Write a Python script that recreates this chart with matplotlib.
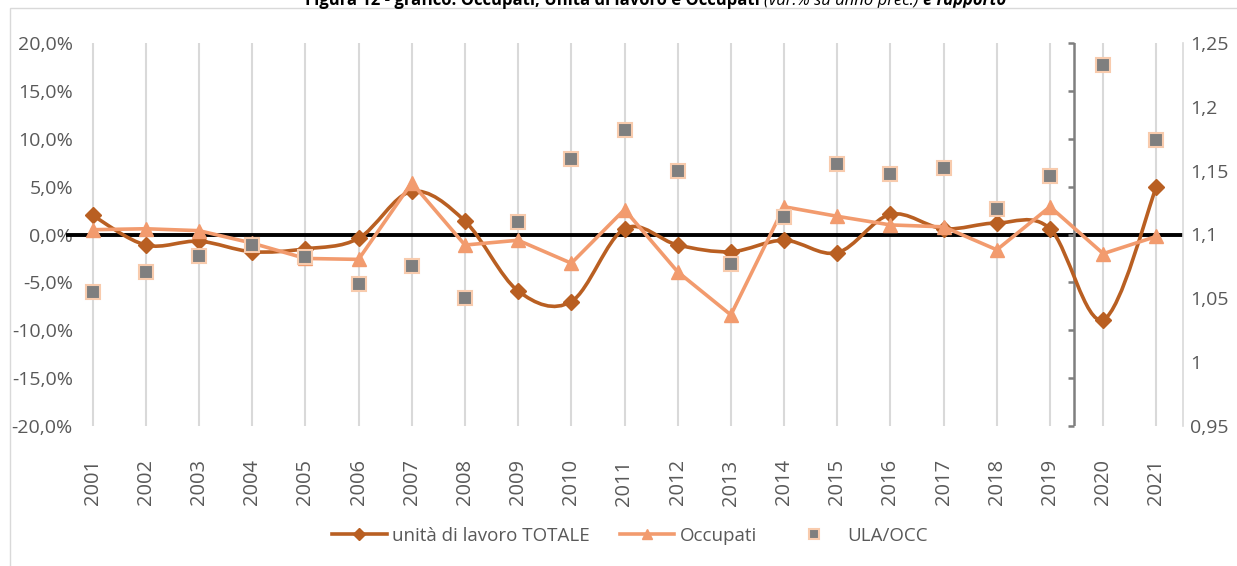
import numpy as np
import matplotlib.pyplot as plt
from matplotlib.path import Path
from matplotlib.patches import PathPatch, Rectangle
from matplotlib.lines import Line2D
from matplotlib.markers import TICKLEFT

plt.rcParams['font.family'] = ['Open Sans', 'DejaVu Sans']

# data (var.% su anno prec. / rapporto)
years = list(range(2001, 2022))
ula_tot = [2.0, -1.1, -0.7, -1.8, -1.5, -0.4, 4.5, 1.4, -5.9, -7.0, 0.6,
           -1.1, -1.8, -0.6, -1.9, 2.1, 0.6, 1.2, 0.6, -8.9, 5.0]
occupati = [0.5, 0.6, 0.4, -0.9, -2.5, -2.6, 5.4, -1.1, -0.6, -3.0, 2.6,
            -3.9, -8.4, 2.9, 1.9, 1.0, 0.8, -1.6, 2.9, -2.0, -0.2]
ula_occ = [1.055, 1.071, 1.083, 1.092, 1.082, 1.061, 1.075, 1.050, 1.110, 1.159, 1.182,
           1.150, 1.077, 1.114, 1.155, 1.147, 1.152, 1.120, 1.146, 1.233, 1.174]
labels = ["unità di lavoro TOTALE", "Occupati", "ULA/OCC"]
left_ticks = [-20, -15, -10, -5, 0, 5, 10, 15, 20]
right_ticks = [0.95, 1.0, 1.05, 1.1, 1.15, 1.2, 1.25]
right_labels = ["0,95", "1", "1,05", "1,1", "1,15", "1,2", "1,25"]

brown = '#B95F22'
orange = '#F29B6E'
grey_txt = '#595959'


def smooth_path(xs, ys):
    # excel-like smoothed line: cubic bezier through the points
    p = np.column_stack([xs, ys]).astype(float)
    n = len(p)
    verts = [p[0]]
    codes = [Path.MOVETO]
    for i in range(n - 1):
        prev = p[i - 1] if i > 0 else p[i]
        nxt = p[i + 2] if i + 2 < n else p[i + 1]
        c1 = p[i] + (p[i + 1] - prev) / 6
        c2 = p[i + 1] - (nxt - p[i]) / 6
        verts += [c1, c2, p[i + 1]]
        codes += [Path.CURVE4] * 3
    return Path(verts, codes)


W, H = 1237, 566
fig = plt.figure(figsize=(W / 100, H / 100), dpi=100)
ax = fig.add_axes([66 / W, 1 - 426 / H, (1183 - 66) / W, (426 - 43) / H])

ax.set_xlim(2000.5, 2021.5)
ax.set_ylim(-20, 20)
ax.set_xticks(years)
ax.set_xticklabels([str(y) for y in years], rotation=90, fontsize=14.5, color=grey_txt)
ax.set_yticks(left_ticks)
ax.set_yticklabels([f"{t},0%" for t in left_ticks], fontsize=14, color=grey_txt)
ax.tick_params(axis='x', length=0, pad=24)
ax.tick_params(axis='y', length=0, pad=-5)
ax.grid(axis='x', color='#d9d9d9', lw=1.5)
ax.set_axisbelow(True)
for s in ax.spines.values():
    s.set_visible(False)

ax.axhline(0, color='black', lw=2.8, zorder=1.5)

# separator line with ticks between 2019 and 2020
ax.axvline(2019.45, color='#7f7f7f', lw=1.8, zorder=1.6)
ax.plot([2019.45] * len(left_ticks), left_ticks, ls='none', marker=TICKLEFT,
        ms=4.5, mew=1.8, color='#7f7f7f', zorder=1.6, clip_on=False)

ax.add_patch(PathPatch(smooth_path(years, ula_tot), fc='none', ec=brown, lw=2.6, zorder=3))
ax.plot(years, ula_tot, ls='none', marker='D', ms=8.5, color=brown, zorder=4)
ax.plot(years, occupati, color=orange, lw=2.6, marker='^', ms=10, zorder=5)

ax2 = ax.twinx()
ax2.set_ylim(0.95, 1.25)
ax2.set_yticks(right_ticks)
ax2.set_yticklabels(right_labels, fontsize=14, color=grey_txt)
ax2.tick_params(axis='y', length=0, pad=5)
for k, s in ax2.spines.items():
    s.set_visible(k == 'right')
ax2.spines['right'].set_color('#d9d9d9')
ax2.spines['right'].set_linewidth(1.2)
ax2.plot(years, ula_occ, ls='none', marker='s', ms=10, mfc='#7f7f7f',
         mec='#F8CBAD', mew=1.5, zorder=6)

handles = [
    Line2D([], [], color=brown, lw=2.6, marker='D', ms=6),
    Line2D([], [], color=orange, lw=2.6, marker='^', ms=7),
    Line2D([], [], ls='none', marker='s', ms=7, mfc='#7f7f7f', mec='#F8CBAD', mew=1.5),
]
fig.legend(handles, labels, loc='center', bbox_to_anchor=(630 / W, 1 - 536 / H), ncol=3,
           frameon=False, fontsize=13.5, handlelength=2.9, handletextpad=0.3,
           columnspacing=1.6, labelcolor=grey_txt)

# border of the chart area
fig.patches.append(Rectangle((10 / W, -0.1), 2, 1 - 8 / H + 0.1, transform=fig.transFigure,
                             fill=False, ec='#d9d9d9', lw=1))

# title (cut at the top in the original)
t1 = fig.text(305 / W, 1 - 9 / H, "Figura 12 - grafico: Occupati, Unità di lavoro e Occupati ",
              fontsize=12, weight='bold', va='bottom', ha='left')
t2 = ax.annotate("(var.% su anno prec.) ", xy=(1, 0), xycoords=t1, va='bottom', ha='left',
                 fontsize=12, style='italic', annotation_clip=False)
ax.annotate("e rapporto", xy=(1, 0), xycoords=t2, va='bottom', ha='left',
            fontsize=12, style='italic', weight='bold', annotation_clip=False)

fig.savefig('out.png', dpi=100)
